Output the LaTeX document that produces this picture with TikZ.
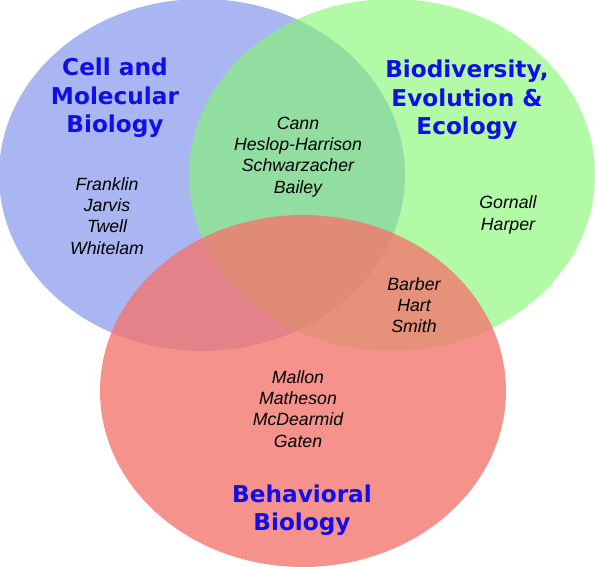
\documentclass[tikz,border=0pt]{standalone}
\usepackage{fontspec}
\setmainfont{Liberation Sans}
\newfontfamily\headfont{DejaVu Sans}
\usetikzlibrary{shapes.geometric}

\definecolor{cellblue}{RGB}{170,182,242}
\definecolor{evogreen}{RGB}{131,247,111}
\definecolor{behred}{RGB}{244,117,109}
\definecolor{titleblue}{RGB}{15,15,230}

\begin{document}
\begin{tikzpicture}[
    x=1pt, y=-1pt,
    set/.style={ellipse, minimum width=406pt, minimum height=352pt, inner sep=0pt, draw=none},
    title/.style={align=center, text=titleblue, font=\headfont\bfseries\fontsize{23.2}{28.5}\selectfont},
    names/.style={align=center, font=\itshape\fontsize{17.7}{21.2}\selectfont}
]
\useasboundingbox (0,0) rectangle (595,567);

% the three sets
\node[set, fill=cellblue] (cell) at (202,175) {};
\node[set, fill=evogreen, fill opacity=0.62] (evo) at (392,175) {};
\node[set, fill=behred, fill opacity=0.79] (beh) at (303,391) {};

% set titles
\node[title] (celltitle) at (115,98) {Cell and\\Molecular\\Biology};
\node[title] (evotitle) at (467,100) {Biodiversity,\\Evolution \&\\Ecology};
\node[title] (behtitle) at (302,510) {Behavioral\\Biology};

% members
\node[names] (cellonly) at (107,216) {Franklin\\Jarvis\\Twell\\Whitelam};
\node[names] (cellevo) at (298,157) {Cann\\Heslop-Harrison\\Schwarzacher\\Bailey};
\node[names] (evoonly) at (508,215) {Gornall\\Harper};
\node[names] (evobeh) at (414,305) {Barber\\Hart\\Smith};
\node[names] (behonly) at (298,409) {Mallon\\Matheson\\McDearmid\\Gaten};

\end{tikzpicture}
\end{document}
